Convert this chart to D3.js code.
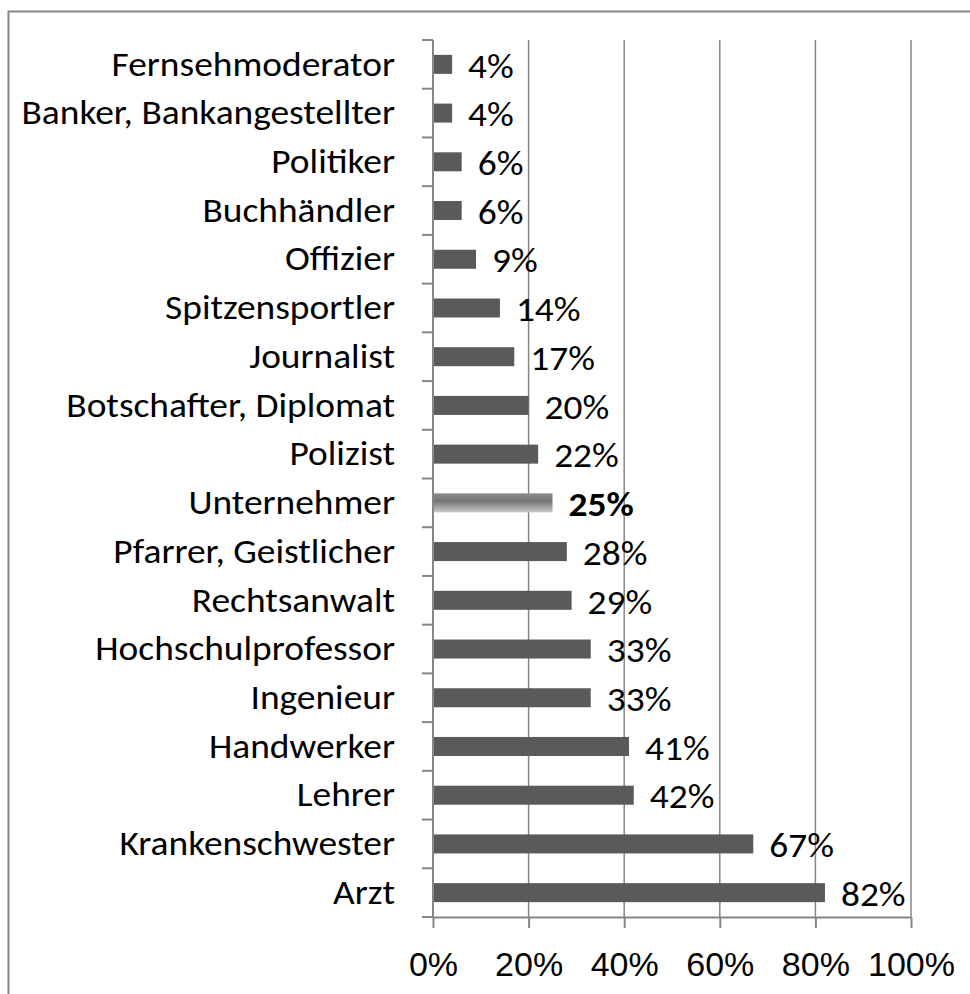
<!DOCTYPE html>
<html>
<head>
<meta charset="utf-8">
<script src="https://cdn.jsdelivr.net/npm/d3@7"></script>
<style>
  body { margin: 0; background: #fff; }
  svg { display: block; font-family: Carlito, "Open Sans", sans-serif; }
</style>
</head>
<body>
<div id="chart"></div>
<script>
// data, top to bottom as in the chart
var categories = ["Fernsehmoderator", "Banker, Bankangestellter", "Politiker", "Buchhändler",
  "Offizier", "Spitzensportler", "Journalist", "Botschafter, Diplomat", "Polizist",
  "Unternehmer", "Pfarrer, Geistlicher", "Rechtsanwalt", "Hochschulprofessor",
  "Ingenieur", "Handwerker", "Lehrer", "Krankenschwester", "Arzt"]
var values = [4, 4, 6, 6, 9, 14, 17, 20, 22, 25, 28, 29, 33, 33, 41, 42, 67, 82]
var highlight = ["Unternehmer"]
var xTicks = [0, 20, 40, 60, 80, 100]

var width = 970,
    height = 994
var margin = { top: 40, right: 59, bottom: 77, left: 433 }
var fontSize = 34
var stretch = 1.1   // the original glyphs are a bit wider than Carlito's

var svg = d3.select("#chart")
    .append("svg")
    .attr("width", width)
    .attr("height", height)

// outer frame
svg.append("rect")
    .attr("x", 8.5).attr("y", 11.5)
    .attr("width", width).attr("height", height)
    .attr("fill", "none")
    .attr("stroke", "#868686")
    .attr("stroke-width", 2)

var defs = svg.append("defs")
var grad = defs.append("linearGradient")
    .attr("id", "hl").attr("x1", 0).attr("y1", 0).attr("x2", 0).attr("y2", 1)
grad.append("stop").attr("offset", "0%").attr("stop-color", "#8c8c8c")
grad.append("stop").attr("offset", "40%").attr("stop-color", "#767676")
grad.append("stop").attr("offset", "100%").attr("stop-color", "#c8c8c8")

var x = d3.scaleLinear()
    .domain([0, 100])
    .range([margin.left, width - margin.right])

var y = d3.scaleBand()
    .domain(categories)
    .range([margin.top, height - margin.bottom])
    .paddingInner(0.61)
    .paddingOuter(0.305)

var yTop = margin.top, yBottom = height - margin.bottom

// gridlines
svg.append("g")
    .selectAll("line")
    .data(xTicks.slice(1))
    .enter()
    .append("line")
    .attr("x1", function (d) { return x(d) }).attr("x2", function (d) { return x(d) })
    .attr("y1", yTop).attr("y2", yBottom)
    .attr("stroke", "#868686")
    .attr("stroke-width", 1.5)

// x axis
var xAxis = svg.append("g")
    .attr("transform", "translate(0," + yBottom + ")")
    .call(d3.axisBottom(x).tickValues(xTicks).tickSize(11).tickSizeOuter(0)
        .tickFormat(function (d) { return d + "%" }))
xAxis.select(".domain").attr("stroke", "#868686").attr("stroke-width", 2)
xAxis.selectAll(".tick line").attr("stroke", "#868686").attr("stroke-width", 2)
xAxis.selectAll(".tick text")
    .attr("y", 59)
    .attr("dy", 0)
    .style("font-size", fontSize + "px")
    .style("font-family", null)
    .attr("fill", "#000")

// y axis: tick marks sit on band boundaries
var yAxis = svg.append("g")
    .attr("transform", "translate(" + margin.left + ",0)")
yAxis.append("line")
    .attr("y1", yTop).attr("y2", yBottom + 1)
    .attr("stroke", "#868686").attr("stroke-width", 2)
var step = y.step()
yAxis.selectAll(".tk")
    .data(d3.range(categories.length + 1))
    .enter()
    .append("line")
    .attr("x1", -11).attr("x2", 0)
    .attr("y1", function (i) { return yTop + i * step })
    .attr("y2", function (i) { return yTop + i * step })
    .attr("stroke", "#868686").attr("stroke-width", 2)

// category labels
svg.append("g")
    .selectAll("text")
    .data(categories)
    .enter()
    .append("text")
    .attr("transform", function (d) {
        return "translate(" + (margin.left - 38) + "," + (y(d) + y.bandwidth() / 2) + ") scale(" + stretch + ",1)"
    })
    .attr("dy", "0.33em")
    .attr("text-anchor", "end")
    .style("font-size", fontSize + "px")
    .text(function (d) { return d })

// bars
svg.append("g")
    .selectAll("rect")
    .data(categories)
    .enter()
    .append("rect")
    .attr("x", x(0) + 1)
    .attr("y", function (d) { return y(d) })
    .attr("width", function (d, i) { return x(values[i]) - x(0) - 1 })
    .attr("height", y.bandwidth())
    .attr("fill", function (d) { return highlight.indexOf(d) >= 0 ? "url(#hl)" : "#5a5a5a" })

// value labels
svg.append("g")
    .selectAll("text")
    .data(categories)
    .enter()
    .append("text")
    .attr("transform", function (d, i) {
        return "translate(" + (x(values[i]) + 16) + "," + (y(d) + y.bandwidth() / 2 + 2) + ") scale(" + stretch + ",1)"
    })
    .attr("dy", "0.33em")
    .style("font-size", fontSize + "px")
    .style("font-weight", function (d) { return highlight.indexOf(d) >= 0 ? "bold" : "normal" })
    .text(function (d, i) { return values[i] + "%" })
</script>
</body>
</html>
